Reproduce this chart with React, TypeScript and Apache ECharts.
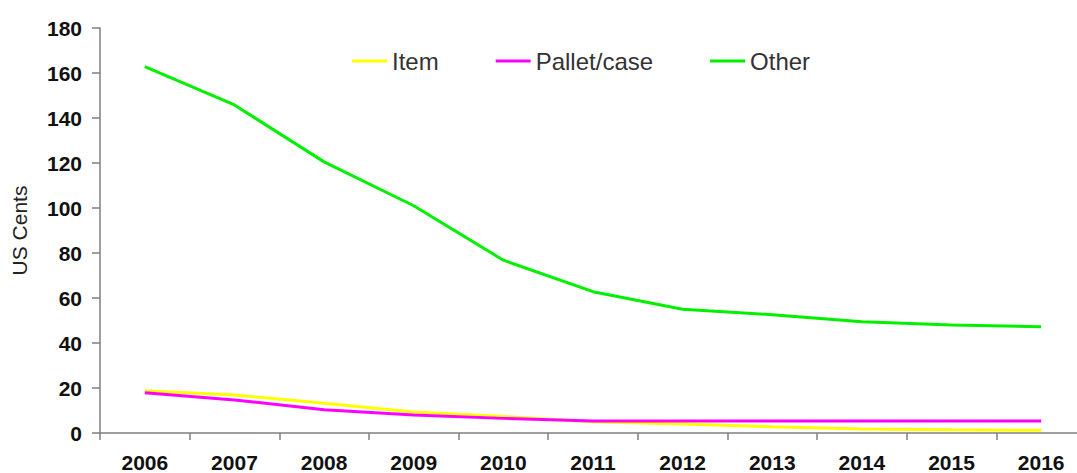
import React, { useEffect, useRef } from "react";
import * as echarts from "echarts";

const years = ["2006", "2007", "2008", "2009", "2010", "2011", "2012", "2013", "2014", "2015", "2016"];
const itemValues = [18.8, 16.9, 13.2, 9.3, 7.3, 5.0, 4.0, 2.8, 1.8, 1.4, 1.2];
const palletValues = [17.9, 14.7, 10.3, 8.0, 6.5, 5.3, 5.3, 5.3, 5.3, 5.3, 5.3];
const otherValues = [162.8, 145.8, 120.5, 101.0, 76.8, 62.8, 55.0, 52.6, 49.4, 48.0, 47.2];
const yTicks = { min: 0, max: 180, interval: 20 };

export default function App() {
  const ref = useRef<HTMLDivElement>(null);
  useEffect(() => {
    if (!ref.current) return;
    const chart = echarts.init(ref.current, undefined, { renderer: "svg" });
    const axisColor = "#7f7f7f";
    const font = "Liberation Sans, Arial, sans-serif";
    chart.setOption({
      animation: false,
      backgroundColor: "#ffffff",
      grid: { left: 100, width: 986, top: 28, height: 405, containLabel: false },
      legend: {
        left: 347,
        top: 44,
        icon: "rect",
        itemWidth: 35,
        itemHeight: 3,
        itemGap: 57,
        textStyle: { fontFamily: font, fontSize: 24, color: "#333" },
        data: ["Item", "Pallet/case", "Other"],
      },
      xAxis: {
        type: "category",
        data: years,
        boundaryGap: true,
        axisLine: { lineStyle: { color: axisColor, width: 1.5 } },
        axisTick: { show: true, length: 7, lineStyle: { color: axisColor, width: 1.5 } },
        axisLabel: { fontFamily: font, fontSize: 21, fontWeight: "bold", color: "#111", margin: 19 },
        splitLine: { show: false },
      },
      yAxis: {
        type: "value",
        min: yTicks.min,
        max: yTicks.max,
        interval: yTicks.interval,
        name: "US Cents",
        nameLocation: "middle",
        nameRotate: 90,
        nameGap: 70,
        nameTextStyle: { fontFamily: font, fontSize: 21, color: "#222" },
        axisLine: { show: true, lineStyle: { color: axisColor, width: 1.5 } },
        axisTick: { show: true, length: 8, lineStyle: { color: axisColor, width: 1.5 } },
        axisLabel: { fontFamily: font, fontSize: 21, fontWeight: "bold", color: "#111", margin: 18 },
        splitLine: { show: false },
      },
      series: [
        {
          name: "Item",
          type: "line",
          data: itemValues,
          symbol: "none",
          lineStyle: { color: "#FFFF00", width: 3 },
          itemStyle: { color: "#FFFF00" },
          z: 2,
        },
        {
          name: "Pallet/case",
          type: "line",
          data: palletValues,
          symbol: "none",
          lineStyle: { color: "#FF00FF", width: 3 },
          itemStyle: { color: "#FF00FF" },
          z: 3,
        },
        {
          name: "Other",
          type: "line",
          data: otherValues,
          symbol: "none",
          lineStyle: { color: "#00F000", width: 3 },
          itemStyle: { color: "#00F000" },
          z: 4,
        },
      ],
    });
    return () => chart.dispose();
  }, []);
  return (
    <div
      style={{ position: "fixed", left: 0, top: 0, width: 1077, height: 473, overflow: "hidden", background: "#fff" }}
    >
      <div ref={ref} style={{ width: 1100, height: 473 }} />
    </div>
  );
}
